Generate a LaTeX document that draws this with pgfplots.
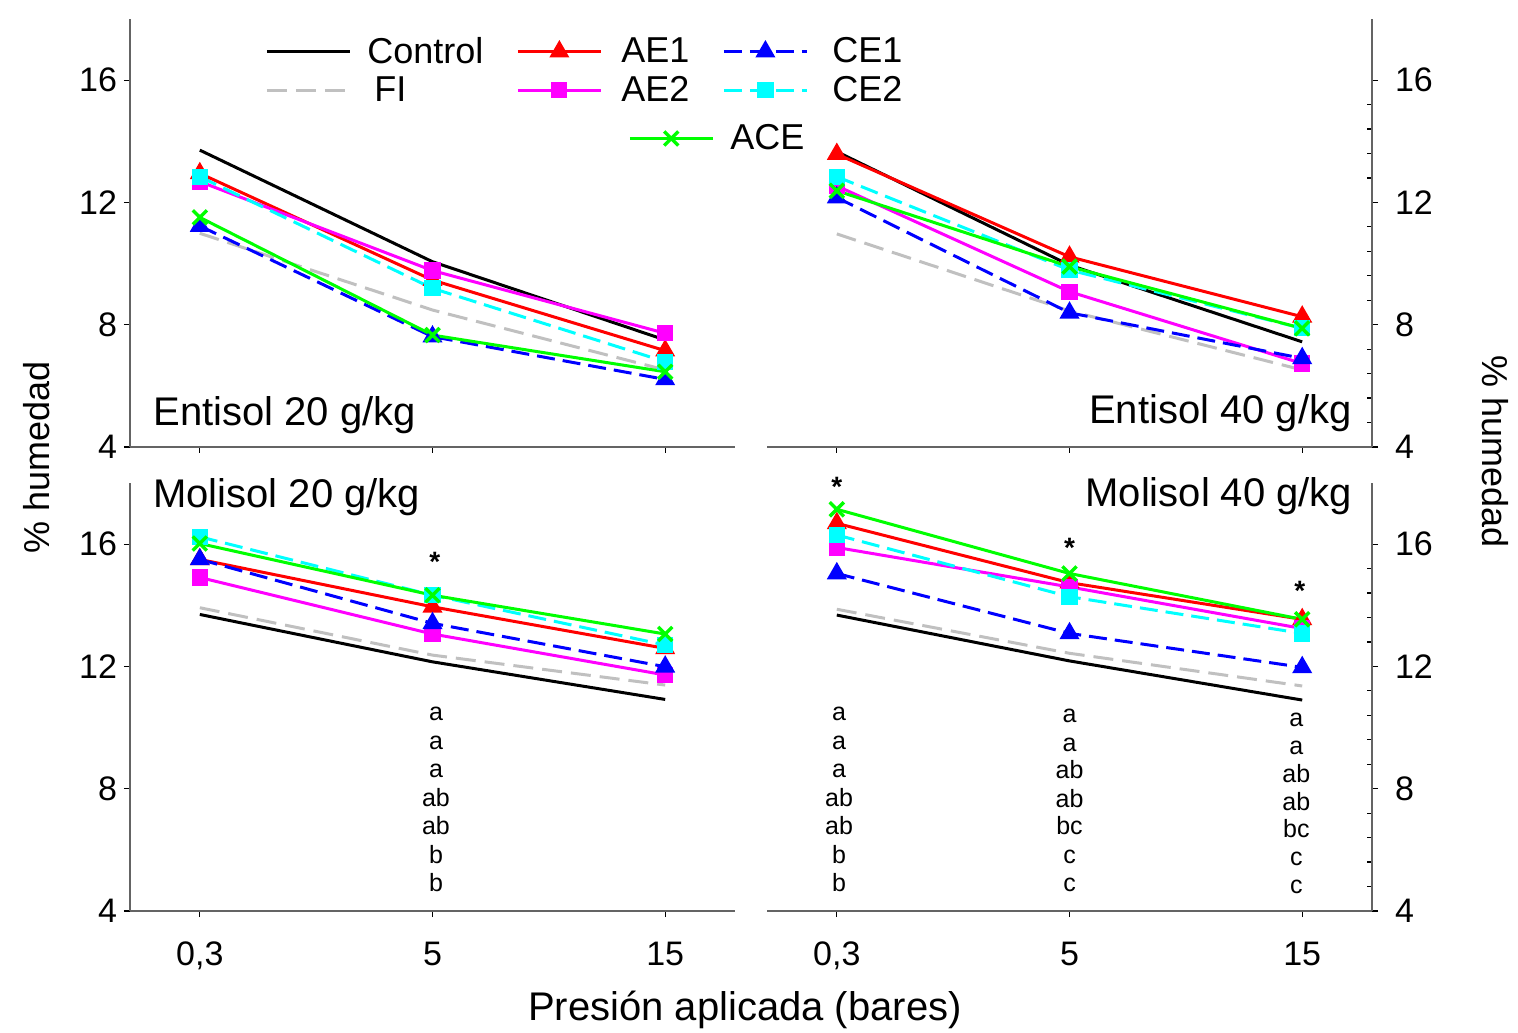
\documentclass[border=0pt]{standalone}
\usepackage{fontspec}
\setmainfont{Liberation Sans}
\usepackage{pgfplots}
\usepackage{pgfplotstable}
\pgfplotsset{compat=1.18}

\definecolor{cRed}{RGB}{255,0,0}
\definecolor{cMag}{RGB}{255,0,255}
\definecolor{cBlue}{RGB}{0,0,255}
\definecolor{cCyan}{RGB}{0,255,255}
\definecolor{cGreen}{RGB}{0,255,0}
\definecolor{cGray}{RGB}{192,192,192}
\definecolor{cSpine}{RGB}{100,100,100}

\pgfplotstableread{
x Control FI AE1 AE2 CE1 CE2 ACE
0 13.71 10.99 12.95 12.68 11.23 12.84 11.51
1 10.06 8.48 9.46 9.77 7.61 9.19 7.66
2 7.50 6.52 7.15 7.72 6.21 6.79 6.46
}\tEntA
\pgfplotstableread{
x Control FI AE1 AE2 CE1 CE2 ACE
0 13.66 10.97 13.58 12.54 12.16 12.84 12.38
1 9.95 8.45 10.22 9.08 8.39 9.79 9.90
2 7.44 6.52 8.26 6.73 6.90 7.88 7.88
}\tEntB
\pgfplotstableread{
x Control FI AE1 AE2 CE1 CE2 ACE
0 13.70 13.92 15.50 14.91 15.50 16.24 16.02
1 12.15 12.37 13.95 13.06 13.41 14.33 14.33
2 10.92 11.39 12.59 11.72 11.99 12.70 13.06
}\tMolA
\pgfplotstableread{
x Control FI AE1 AE2 CE1 CE2 ACE
0 13.68 13.87 16.68 15.89 15.04 16.30 17.14
1 12.18 12.43 14.74 14.60 13.08 14.28 15.04
2 10.90 11.36 13.54 13.24 11.97 13.08 13.54
}\tMolB

\tikzset{
  ann/.style={font=\fontsize{12.5}{14}\selectfont, anchor=base, inner sep=0pt},
  ast/.style={font=\fontsize{14}{16}\selectfont\bfseries, anchor=base, inner sep=0pt},
  plab/.style={font=\fontsize{20}{22}\selectfont, inner sep=0pt},
}

\pgfplotsset{
  sControl/.style={black, line width=1.5pt, no marks},
  sFI/.style={cGray, line width=1.5pt, dash pattern=on 10pt off 4.5pt, no marks},
  sAE1/.style={cRed, line width=1.5pt, mark=triangle*, mark size=4.3pt, mark options={solid}},
  sAE2/.style={cMag, line width=1.5pt, mark=square*, mark size=3.3pt, mark options={solid}},
  sCE1/.style={cBlue, line width=1.5pt, dash pattern=on 9pt off 4pt, mark=triangle*, mark size=4.3pt, mark options={solid}},
  sCE2/.style={cCyan, line width=1.5pt, dash pattern=on 9pt off 4pt, mark=square*, mark size=3.3pt, mark options={solid}},
  sACE/.style={cGreen, line width=1.5pt, mark=x, mark size=5pt, mark options={solid, line width=1.7pt}},
  panel/.style={
    scale only axis, width=302.5pt, height=214pt,
    xmin=-0.3, xmax=2.3, ymin=4, ymax=18,
    xtick={0,1,2}, ytick={4,8,12,16},
    clip=false, tick align=outside,
    major tick length=3pt,
    axis line style={cSpine, line width=0.8pt},
    tick style={black, line width=0.6pt},
    /pgf/number format/assume math mode=true,
    tick label style={font=\fontsize{17}{19}\selectfont},
    xticklabel style={yshift=-9pt},
    legend image code/.code={\draw[mark repeat=2,mark phase=2] plot coordinates {(0pt,0pt) (20.75pt,0pt) (41.5pt,0pt)};},
  },
  leftpanel/.style={panel, axis x line*=bottom, axis y line*=left},
  rightpanel/.style={panel, axis x line*=bottom, axis y line*=right,
    yticklabel style={xshift=5pt},
    minor y tick num=4, minor tick length=2.5pt,
    minor y tick style={xshift=-2.5pt}},
  toppanel/.style={xticklabels={}},
  botpanel/.style={xticklabels={{0,3},5,15}},
}

\newcommand{\allplots}[1]{%
  \addplot[sControl] table[x=x,y=Control]{#1};
  \addplot[sFI] table[x=x,y=FI]{#1};
  \addplot[sAE1] table[x=x,y=AE1]{#1};
  \addplot[sAE2] table[x=x,y=AE2]{#1};
  \addplot[sCE1] table[x=x,y=CE1]{#1};
  \addplot[sCE2] table[x=x,y=CE2]{#1};
  \addplot[sACE] table[x=x,y=ACE]{#1};
}

\begin{document}
\begin{tikzpicture}
\useasboundingbox (0pt,0pt) rectangle (759pt,516pt);

% Top left: Entisol 20 g/kg
\begin{axis}[leftpanel, toppanel, at={(65pt,292.5pt)}, anchor=south west,
  legend columns=3,
  legend style={at={(rel axis cs:0.223,0.968)}, anchor=north west, draw=none, fill=none,
    font=\fontsize{18}{20}\selectfont, inner sep=0pt, row sep=1pt,
    /tikz/every odd column/.append style={column sep=6pt},
    /tikz/every even column/.append style={column sep=14.5pt}},
  legend cell align=left]
\addlegendimage{sControl}
\addlegendimage{sAE1}
\addlegendimage{sCE1}
\addlegendimage{sFI}
\addlegendimage{sAE2}
\addlegendimage{sCE2}
\legend{Control,\hspace{1.5pt}AE1,\hspace{4pt}CE1,\hspace{3.5pt}FI,\hspace{1.5pt}AE2,\hspace{4pt}CE2}
\allplots{\tEntA}
\node[plab, anchor=west] at (rel axis cs:0.038,0.074) {Entisol 20 g/kg};
\end{axis}

% Top right: Entisol 40 g/kg
\begin{axis}[rightpanel, toppanel, at={(383.5pt,292.5pt)}, anchor=south west,
  legend style={at={(rel axis cs:-0.23,0.764)}, anchor=north west, draw=none, fill=none,
    font=\fontsize{18}{20}\selectfont, inner sep=0pt,
    /tikz/every odd column/.append style={column sep=6pt}},
  legend cell align=left]
\addlegendimage{sACE}
\legend{ACE}
\allplots{\tEntB}
\node[plab, anchor=east] at (rel axis cs:0.967,0.08) {Entisol 40 g/kg};
\end{axis}

% Bottom left: Molisol 20 g/kg
\begin{axis}[leftpanel, botpanel, at={(65pt,60.5pt)}, anchor=south west]
\allplots{\tMolA}
\node[plab, anchor=west] at (rel axis cs:0.038,0.966) {Molisol 20 g/kg};
\node[ast] at (axis cs:1.01,15.12) {*};
\node[ann] at (axis cs:1.015,10.22) {a};
\node[ann] at (axis cs:1.015,9.29) {a};
\node[ann] at (axis cs:1.015,8.36) {a};
\node[ann] at (axis cs:1.015,7.43) {ab};
\node[ann] at (axis cs:1.015,6.49) {ab};
\node[ann] at (axis cs:1.015,5.56) {b};
\node[ann] at (axis cs:1.015,4.63) {b};
\end{axis}

% Bottom right: Molisol 40 g/kg
\begin{axis}[rightpanel, botpanel, at={(383.5pt,60.5pt)}, anchor=south west]
\allplots{\tMolB}
\node[plab, anchor=east] at (rel axis cs:0.968,0.97) {Molisol 40 g/kg};
\node[ast] at (axis cs:0,17.57) {*};
\node[ast] at (axis cs:1,15.57) {*};
\node[ast] at (axis cs:1.99,14.17) {*};
\node[ann] at (axis cs:0.01,10.22) {a};
\node[ann] at (axis cs:0.01,9.29) {a};
\node[ann] at (axis cs:0.01,8.36) {a};
\node[ann] at (axis cs:0.01,7.43) {ab};
\node[ann] at (axis cs:0.01,6.49) {ab};
\node[ann] at (axis cs:0.01,5.56) {b};
\node[ann] at (axis cs:0.01,4.63) {b};
\node[ann] at (axis cs:1,10.15) {a};
\node[ann] at (axis cs:1,9.23) {a};
\node[ann] at (axis cs:1,8.32) {ab};
\node[ann] at (axis cs:1,7.40) {ab};
\node[ann] at (axis cs:1,6.49) {bc};
\node[ann] at (axis cs:1,5.57) {c};
\node[ann] at (axis cs:1,4.65) {c};
\node[ann] at (axis cs:1.975,10.03) {a};
\node[ann] at (axis cs:1.975,9.12) {a};
\node[ann] at (axis cs:1.975,8.21) {ab};
\node[ann] at (axis cs:1.975,7.30) {ab};
\node[ann] at (axis cs:1.975,6.39) {bc};
\node[ann] at (axis cs:1.975,5.48) {c};
\node[ann] at (axis cs:1.975,4.57) {c};
\end{axis}

\node[font=\fontsize{18}{20}\selectfont, rotate=90] at (18.5pt,287.5pt) {\% humedad};
\node[font=\fontsize{18}{20}\selectfont, rotate=-90] at (747.5pt,290pt) {\% humedad};
\node[font=\fontsize{20}{22}\selectfont, anchor=base] at (372.5pt,6pt) {Presión aplicada (bares)};
\end{tikzpicture}
\end{document}
